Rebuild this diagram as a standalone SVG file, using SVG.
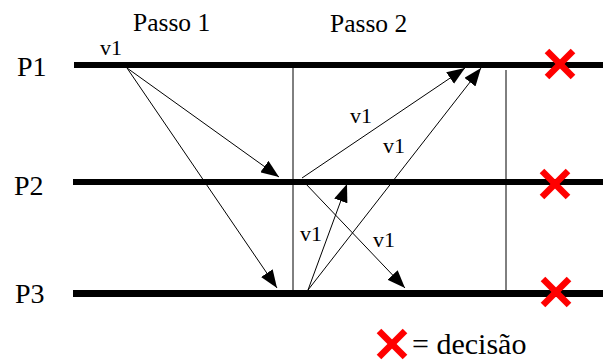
<svg xmlns="http://www.w3.org/2000/svg" width="603" height="360" viewBox="0 0 603 360">
<defs>
<style>
text{fill:#000}
.lbl{font-size:28px}
.step{font-size:25.5px}
.v{font-size:22px}
.leg{font-size:30px}
.proc{stroke:#000;stroke-width:6}
.div{stroke:#000;stroke-width:1}
.msg{stroke:#000;stroke-width:1;fill:none;marker-end:url(#ah)}
.x{stroke:#ff0000;stroke-width:6.5;fill:none}
</style>
<marker id="ah" markerUnits="userSpaceOnUse" markerWidth="19" markerHeight="14" refX="18" refY="7" orient="auto" viewBox="0 0 19 14">
<path d="M0,0 L18,7 L0,14 z" fill="#000"/>
</marker>
<g id="cross"><line class="x" x1="-13" y1="-13" x2="13" y2="13"/><line class="x" x1="13" y1="-13" x2="-13" y2="13"/></g>
</defs>
<rect width="603" height="360" fill="#fff"/>
<g font-family="Liberation Serif, serif">
<g id="P1">
<text class="lbl" x="17" y="76">P1</text>
<line class="proc" x1="74" y1="65" x2="603" y2="65"/>
</g>
<g id="P2">
<text class="lbl" x="14" y="195">P2</text>
<line class="proc" x1="73" y1="182" x2="603" y2="182"/>
</g>
<g id="P3">
<text class="lbl" x="15" y="303">P3</text>
<line class="proc" x1="73" y1="293.5" x2="603" y2="293.5" style="stroke-width:7"/>
</g>
<g id="steps">
<text class="step" x="133" y="31">Passo 1</text>
<text class="step" x="330" y="32">Passo 2</text>
<line class="div" x1="293" y1="68" x2="293" y2="291"/>
<line class="div" x1="506" y1="70" x2="506" y2="290"/>
</g>
<g id="connectors">
<line class="msg" x1="127" y1="68" x2="279" y2="177"/>
<line class="msg" x1="127" y1="68" x2="277" y2="288"/>
<line class="msg" x1="302" y1="178" x2="465" y2="68"/>
<line class="msg" x1="308" y1="290" x2="481" y2="68"/>
<line class="msg" x1="308" y1="290" x2="347" y2="184"/>
<line class="msg" x1="305" y1="183" x2="405" y2="288"/>
</g>
<g id="labels">
<text class="v" x="100" y="55">v1</text>
<text class="v" x="350" y="123">v1</text>
<text class="v" x="383" y="153">v1</text>
<text class="v" x="300" y="241">v1</text>
<text class="v" x="373" y="247">v1</text>
</g>
<g id="decisions">
<use href="#cross" x="560" y="64"/>
<use href="#cross" x="555" y="184"/>
<use href="#cross" x="556" y="292"/>
</g>
<g id="legend">
<use href="#cross" x="392" y="344"/>
<text class="leg" x="412" y="354">= decisão</text>
</g>
</g>
</svg>
